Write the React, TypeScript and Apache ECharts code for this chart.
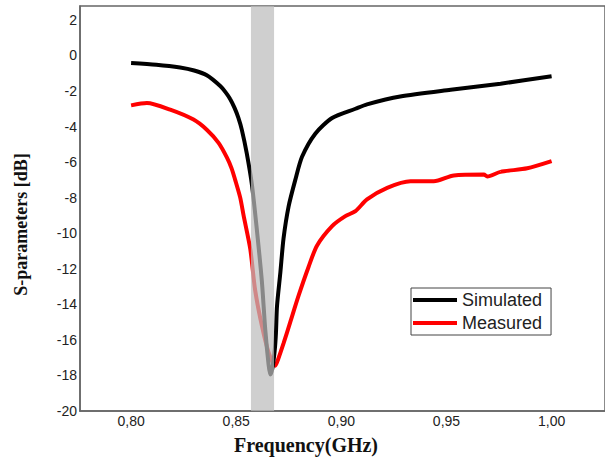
import React, { useEffect, useRef } from "react";
import * as echarts from "echarts";

const simulatedFreq = [0.8, 0.812, 0.8233, 0.83, 0.836, 0.8424, 0.8448, 0.8471, 0.8492, 0.851, 0.8527, 0.855, 0.8575, 0.8599, 0.8622, 0.8638, 0.8654, 0.8662, 0.8672, 0.8683, 0.8689, 0.8694, 0.871, 0.8725, 0.8749, 0.8781, 0.8813, 0.8876, 0.8956, 0.9067, 0.9122, 0.928, 0.952, 0.9757, 1.0];
const simulatedDb = [-0.42, -0.52, -0.68, -0.85, -1.12, -1.72, -2.05, -2.45, -2.95, -3.5, -4.2, -5.5, -7.3, -9.9, -12.7, -15.4, -17.4, -17.95, -17.6, -16.6, -15.6, -14.1, -12.2, -10.3, -8.5, -7.0, -5.7, -4.4, -3.52, -3.0, -2.75, -2.31, -1.93, -1.59, -1.17];

const measuredFreq = [0.8, 0.8075, 0.8186, 0.8297, 0.836, 0.8416, 0.8456, 0.8478, 0.8495, 0.8519, 0.8535, 0.8567, 0.859, 0.8622, 0.8654, 0.8686, 0.8699, 0.8725, 0.8757, 0.8797, 0.8844, 0.8884, 0.8956, 0.9019, 0.9067, 0.9122, 0.9218, 0.9329, 0.944, 0.9535, 0.9678, 0.9694, 0.9757, 0.9884, 1.0];
const measuredDb = [-2.81, -2.68, -3.05, -3.61, -4.18, -4.92, -5.75, -6.35, -7.0, -8.0, -9.0, -10.9, -13.2, -15.2, -16.7, -17.45, -17.1, -16.2, -15.0, -13.5, -11.9, -10.7, -9.6, -9.04, -8.76, -8.1, -7.45, -7.08, -7.08, -6.75, -6.7, -6.81, -6.55, -6.35, -5.95];

const xTicks = [0.8, 0.85, 0.9, 0.95, 1.0];
const yTicks = [-20, -18, -16, -14, -12, -10, -8, -6, -4, -2, 0, 2];
const bandRange = [0.857, 0.868];
const seriesNames = ["Simulated", "Measured"];

export default function App() {
  const ref = useRef<HTMLDivElement>(null);
  useEffect(() => {
    if (!ref.current) return;
    const chart = echarts.init(ref.current, null, { renderer: "svg" });
    const sim = simulatedFreq.map((f, i) => [f, simulatedDb[i]]);
    const meas = measuredFreq.map((f, i) => [f, measuredDb[i]]);
    chart.setOption({
      animation: false,
      backgroundColor: "#fff",
      grid: {
        left: 80,
        right: 0,
        top: 6,
        bottom: 48,
        show: true,
        borderColor: "#666",
        borderWidth: 1.5,
      },
      legend: {
        data: seriesNames,
        orient: "vertical",
        left: 411,
        top: 288,
        padding: [3, 9, 3, 2],
        itemGap: 5,
        itemWidth: 44,
        itemHeight: 4,
        itemTextGap: 4,
        icon: "rect",
        borderColor: "#444",
        borderWidth: 1,
        backgroundColor: "#fff",
        textStyle: { fontFamily: "Liberation Sans", fontSize: 18, color: "#222" },
      },
      xAxis: {
        type: "value",
        min: 0.7757,
        max: 1.0254,
        name: "Frequency(GHz)",
        nameLocation: "middle",
        nameGap: 24,
        nameTextStyle: {
          fontFamily: "Liberation Serif",
          fontWeight: "bold",
          fontSize: 20,
          color: "#111",
          padding: [0, 73, 0, 0],
        },
        axisLine: { onZero: false, lineStyle: { color: "#666", width: 1.5 } },
        axisTick: { show: false },
        splitLine: { show: false },
        axisLabel: {
          customValues: xTicks,
          margin: 3,
          fontFamily: "Liberation Sans",
          fontSize: 14,
          color: "#222",
          formatter: (v: number) => v.toFixed(2).replace(".", ","),
        },
      },
      yAxis: {
        type: "value",
        min: -20,
        max: 2.78,
        name: "S-parameters [dB]",
        nameLocation: "middle",
        nameGap: 50,
        nameTextStyle: {
          fontFamily: "Liberation Serif",
          fontWeight: "bold",
          fontSize: 18,
          color: "#111",
          padding: [0, 32, 0, 0],
        },
        axisLine: { show: true, onZero: false, lineStyle: { color: "#666", width: 1.5 } },
        axisTick: { show: false },
        splitLine: { show: false },
        axisLabel: {
          customValues: yTicks,
          margin: 3,
          fontFamily: "Liberation Sans",
          fontSize: 14,
          color: "#222",
        },
      },
      series: [
        {
          name: seriesNames[0],
          type: "line",
          data: sim,
          showSymbol: false,
          smooth: 0.25,
          color: "#000",
          lineStyle: { color: "#000", width: 4 },
          z: 3,
        },
        {
          name: seriesNames[1],
          type: "line",
          data: meas,
          showSymbol: false,
          smooth: 0.25,
          color: "#ff0000",
          lineStyle: { color: "#ff0000", width: 4 },
          z: 2,
        },
        {
          name: "band",
          type: "line",
          data: [],
          markArea: {
            silent: true,
            z: 10,
            itemStyle: { color: "rgba(189,189,189,0.72)" },
            data: [[{ xAxis: bandRange[0] }, { xAxis: bandRange[1] }]],
          },
        },
      ],
    });
    return () => chart.dispose();
  }, []);
  return (
    <div
      ref={ref}
      style={{ position: "fixed", left: 0, top: 0, width: 605, height: 460 }}
    />
  );
}
